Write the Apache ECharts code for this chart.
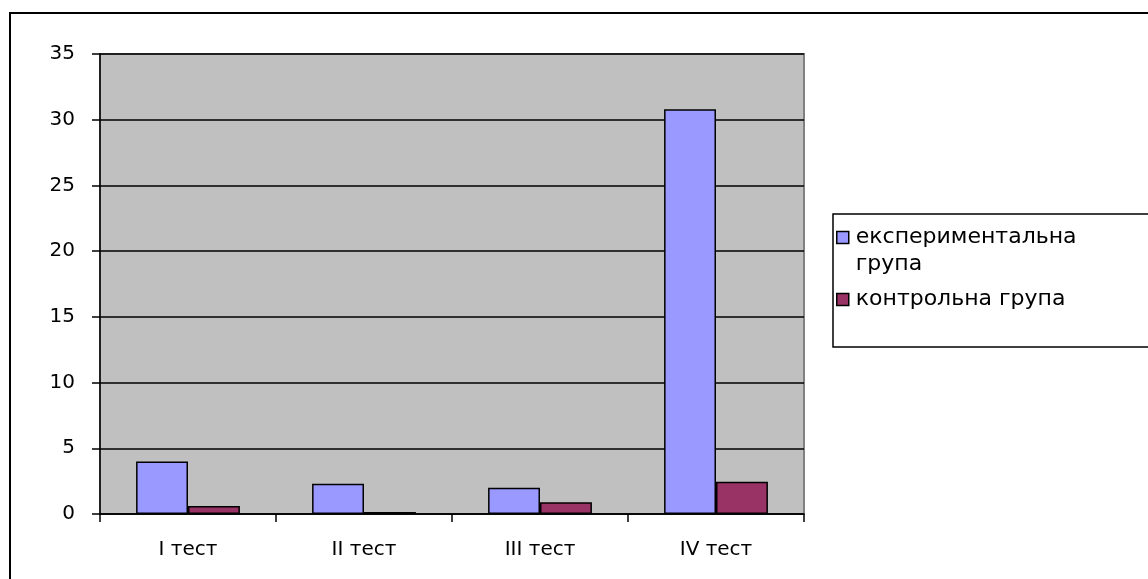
<!DOCTYPE html>
<html>
<head>
<meta charset="utf-8">
<script src="https://cdn.jsdelivr.net/npm/echarts@6/dist/echarts.min.js"></script>
<style>html,body{margin:0;padding:0;background:#fff}#c{width:1148px;height:579px}</style>
</head>
<body>
<div id="c"></div>
<script>
var categories = ['I тест', 'II тест', 'III тест', 'IV тест'];
var seriesNames = ['експериментальна група', 'контрольна група'];
var experimental = [4.0, 2.3, 2.0, 30.8];
var control = [0.6, 0.15, 0.9, 2.45];
var yTicks = [0, 5, 10, 15, 20, 25, 30, 35];

var chart = echarts.init(document.getElementById('c'), null, {renderer: 'canvas'});
var font = 'DejaVu Sans, Liberation Sans, Arial, sans-serif';
chart.setOption({
  animation: false,
  backgroundColor: '#ffffff',
  textStyle: {fontFamily: font},
  grid: {left: 100, right: 344, top: 54, bottom: 65, show: true, backgroundColor: '#C0C0C0', borderColor: '#808080', borderWidth: 2},
  legend: {
    orient: 'vertical', left: 836, top: 197, padding: 0, itemGap: 8,
    itemWidth: 12, itemHeight: 12, itemStyle: {borderColor: '#000', borderWidth: 1.5},
    icon: 'rect',
    textStyle: {fontSize: 22, color: '#000', fontFamily: font, lineHeight: 27, padding: [0, 0, 0, 2]},
    formatter: function (n) { return n === seriesNames[0] ? '\nекспериментальна\nгрупа' : n; },
    data: seriesNames
  },
  xAxis: {
    type: 'category', data: categories,
    axisLine: {lineStyle: {color: '#000', width: 1.5}},
    axisTick: {show: true, length: 8, lineStyle: {color: '#000', width: 1.5}},
    axisLabel: {color: '#000', fontSize: 20, margin: 26, fontFamily: font},
    splitLine: {show: false}
  },
  yAxis: {
    type: 'value', min: yTicks[0], max: yTicks[yTicks.length - 1], interval: yTicks[1] - yTicks[0],
    axisLine: {show: true, lineStyle: {color: '#000', width: 1.5}},
    axisTick: {show: true, length: 8, lineStyle: {color: '#000', width: 1.5}},
    axisLabel: {color: '#000', fontSize: 20, margin: 25, fontFamily: font},
    splitLine: {show: true, lineStyle: {color: '#000', width: 1.5}}
  },
  series: [
    {name: seriesNames[0], type: 'bar', data: experimental, barGap: '0%', barCategoryGap: '41%',
     itemStyle: {color: '#9999FF', borderColor: '#000', borderWidth: 1.5}},
    {name: seriesNames[1], type: 'bar', data: control, barGap: '0%', barCategoryGap: '41%',
     itemStyle: {color: '#993366', borderColor: '#000', borderWidth: 1.5}}
  ],
  graphic: [
    {type: 'rect', shape: {x: 10, y: 13, width: 1200, height: 620}, style: {fill: 'none', stroke: '#000', lineWidth: 2}, z: 100},
    {type: 'rect', shape: {x: 833, y: 214, width: 400, height: 133}, style: {fill: 'none', stroke: '#000', lineWidth: 1.5}, z: 100}
  ]
});
</script>
</body>
</html>
